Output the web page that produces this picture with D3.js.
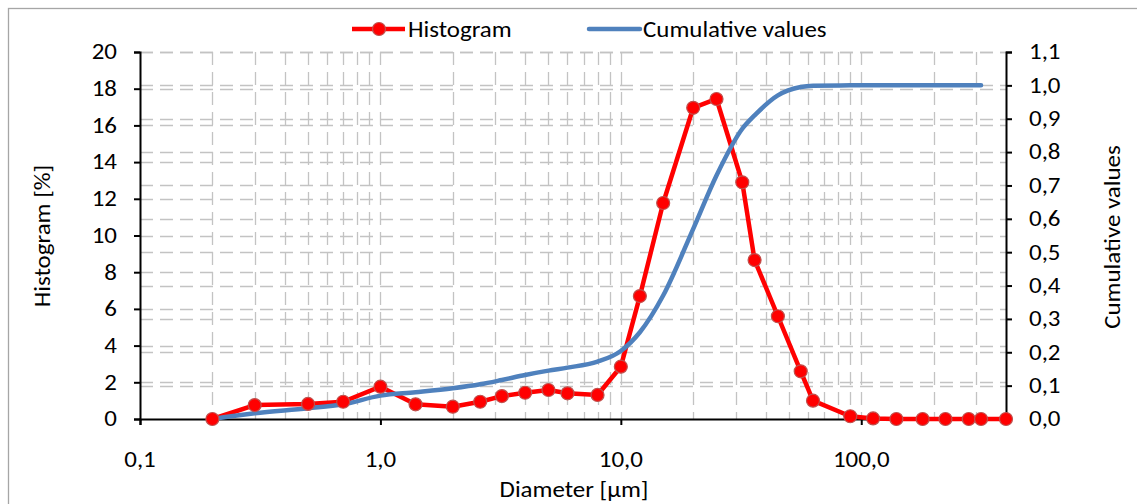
<!DOCTYPE html>
<html>
<head>
<meta charset="utf-8">
<script src="https://cdn.jsdelivr.net/npm/d3@7"></script>
<style>
  html, body { margin: 0; padding: 0; background: #fff; }
  svg text { font-family: Carlito, Calibri, Lato, "Open Sans", sans-serif; fill: #000; }
</style>
</head>
<body>
<svg id="chart" width="1137" height="504"></svg>
<script>
// Particle size classes (µm)
const diameters = [0.2, 0.3, 0.5, 0.7, 1.0, 1.4, 2.0, 2.6, 3.2, 4, 5, 6, 8, 10, 12, 15, 20, 25, 32, 36, 45, 56, 63, 90, 112, 140, 180, 224, 280, 315, 400];
// Histogram [%] per class
const histogram = [0, 0.76, 0.82, 0.94, 1.76, 0.8, 0.67, 0.94, 1.25, 1.43, 1.58, 1.4, 1.31, 2.85, 6.7, 11.77, 16.96, 17.44, 12.9, 8.66, 5.6, 2.6, 1.0, 0.15, 0.03, 0, 0, 0, 0, 0, 0];
// Cumulative fraction (ends at 315 µm)
const cumulative = [0, 0.017, 0.032, 0.044, 0.07, 0.08, 0.092, 0.104, 0.117, 0.132, 0.145, 0.154, 0.172, 0.204, 0.26, 0.37, 0.57, 0.73, 0.87, 0.91, 0.97, 0.995, 0.999, 1, 1, 1, 1, 1, 1, 1];

const xTickValues = [0.1, 1, 10, 100];
const xTickLabels = ["0,1", "1,0", "10,0", "100,0"];
const leftTicks = d3.range(0, 21, 2);
const rightTicks = d3.range(0, 11.5, 1).map(v => v / 10);
const seriesNames = ["Histogram", "Cumulative values"];

const svg = d3.select("#chart");
const plot = { left: 140, right: 1006, top: 52, bottom: 419 };

const x = d3.scaleLog().domain([0.1, 400]).range([plot.left, plot.right]);
const yL = d3.scaleLinear().domain([0, 20]).range([plot.bottom, plot.top]);
const yR = d3.scaleLinear().domain([0, 1.1]).range([plot.bottom, plot.top]);

const gridColor = "#c3c3c3";
const dash = "13,7";
const fs = 21.5;       // label font size
const stretch = 1.16;  // glyphs are set a little wide

// text helper: places a label and widens it along its baseline
function label(g, str, tx, ty, anchor, rot = 0, baseline = "alphabetic") {
  return g.append("text")
    .attr("transform", `translate(${tx},${ty}) rotate(${rot}) scale(${stretch},1)`)
    .attr("text-anchor", anchor)
    .attr("dominant-baseline", baseline)
    .attr("font-size", fs)
    .text(str);
}

// chart frame
svg.append("rect").attr("x", 8.5).attr("y", 8.5).attr("width", 1140).attr("height", 520)
  .attr("fill", "none").attr("stroke", "#a6a6a6").attr("stroke-width", 1.3);

// vertical gridlines: every 1..9 × decade
const vGrid = [];
[0.1, 1, 10, 100].forEach(dec => { for (let k = 1; k <= 9; k++) { const v = dec * k; if (v > 0.1 && v < 400) vGrid.push(v); } });
const grid = svg.append("g");
grid.selectAll("line.v").data(vGrid).join("line")
  .attr("x1", d => Math.round(x(d)) + 0.5).attr("x2", d => Math.round(x(d)) + 0.5)
  .attr("y1", plot.top).attr("y2", plot.bottom)
  .attr("stroke", gridColor).attr("stroke-width", 1.3).attr("stroke-dasharray", dash);

// horizontal gridlines for both value axes
grid.selectAll("line.hl").data(leftTicks.slice(1)).join("line")
  .attr("x1", plot.left).attr("x2", plot.right)
  .attr("y1", d => Math.round(yL(d)) + 0.5).attr("y2", d => Math.round(yL(d)) + 0.5)
  .attr("stroke", gridColor).attr("stroke-width", 1.3).attr("stroke-dasharray", dash);
grid.selectAll("line.hr").data(rightTicks.slice(1)).join("line")
  .attr("x1", plot.left).attr("x2", plot.right)
  .attr("y1", d => Math.round(yR(d)) + 0.5).attr("y2", d => Math.round(yR(d)) + 0.5)
  .attr("stroke", gridColor).attr("stroke-width", 1.3).attr("stroke-dasharray", dash);

// axes (lines and ticks from d3, labels set separately)
const gx = svg.append("g").attr("transform", `translate(0,${plot.bottom})`)
  .call(d3.axisBottom(x).tickValues(xTickValues).tickSize(6).tickFormat(""));
const gl = svg.append("g").attr("transform", `translate(${plot.left},0)`)
  .call(d3.axisLeft(yL).tickValues(leftTicks).tickSize(6).tickFormat(""));
const gr = svg.append("g").attr("transform", `translate(${plot.right},0)`)
  .call(d3.axisRight(yR).tickValues(rightTicks).tickSize(6).tickFormat(""));
[gx, gl, gr].forEach(g => {
  g.select(".domain").attr("stroke", "#000").attr("stroke-width", 2);
  g.selectAll(".tick line").attr("stroke", "#000").attr("stroke-width", 2);
  g.selectAll(".tick text").remove();
});

const labels = svg.append("g");
xTickValues.forEach((v, i) => label(labels, xTickLabels[i], x(v), 467, "middle"));
leftTicks.forEach(v => label(labels, d3.format("d")(v), 117, yL(v), "end", 0, "central"));
rightTicks.forEach(v => label(labels, v.toFixed(1).replace(".", ","), 1029, yR(v), "start", 0, "central"));

// histogram line
svg.append("path")
  .datum(diameters.map((d, i) => [d, histogram[i]]))
  .attr("fill", "none").attr("stroke", "#ff0000").attr("stroke-width", 4.5)
  .attr("stroke-linejoin", "round")
  .attr("d", d3.line().x(d => x(d[0])).y(d => yL(d[1])));

// cumulative smoothed line
svg.append("path")
  .datum(cumulative.map((c, i) => [diameters[i], c]))
  .attr("fill", "none").attr("stroke", "#4f81bd").attr("stroke-width", 4.5)
  .attr("stroke-linecap", "round")
  .attr("d", d3.line().curve(d3.curveMonotoneX).x(d => x(d[0])).y(d => yR(d[1])));

// histogram markers
svg.append("g").selectAll("circle").data(diameters.map((d, i) => [d, histogram[i]])).join("circle")
  .attr("cx", d => x(d[0])).attr("cy", d => yL(d[1])).attr("r", 6.5)
  .attr("fill", "#ff0000").attr("stroke", "#c0504d").attr("stroke-width", 1.2);

// axis titles
label(svg, "Diameter [µm]", 574, 497, "middle");
label(svg, "Histogram [%]", 50, 236, "middle", -90);
label(svg, "Cumulative values", 1120, 237, "middle", -90);

// legend
const lg = svg.append("g");
lg.append("line").attr("x1", 352).attr("x2", 405).attr("y1", 29).attr("y2", 29)
  .attr("stroke", "#ff0000").attr("stroke-width", 4.5);
lg.append("circle").attr("cx", 379).attr("cy", 29).attr("r", 6.5)
  .attr("fill", "#ff0000").attr("stroke", "#c0504d").attr("stroke-width", 1.2);
label(lg, seriesNames[0], 408, 37, "start");
lg.append("line").attr("x1", 589).attr("x2", 640).attr("y1", 29).attr("y2", 29)
  .attr("stroke", "#4f81bd").attr("stroke-width", 4.5).attr("stroke-linecap", "round");
label(lg, seriesNames[1], 643, 37, "start");
</script>
</body>
</html>
